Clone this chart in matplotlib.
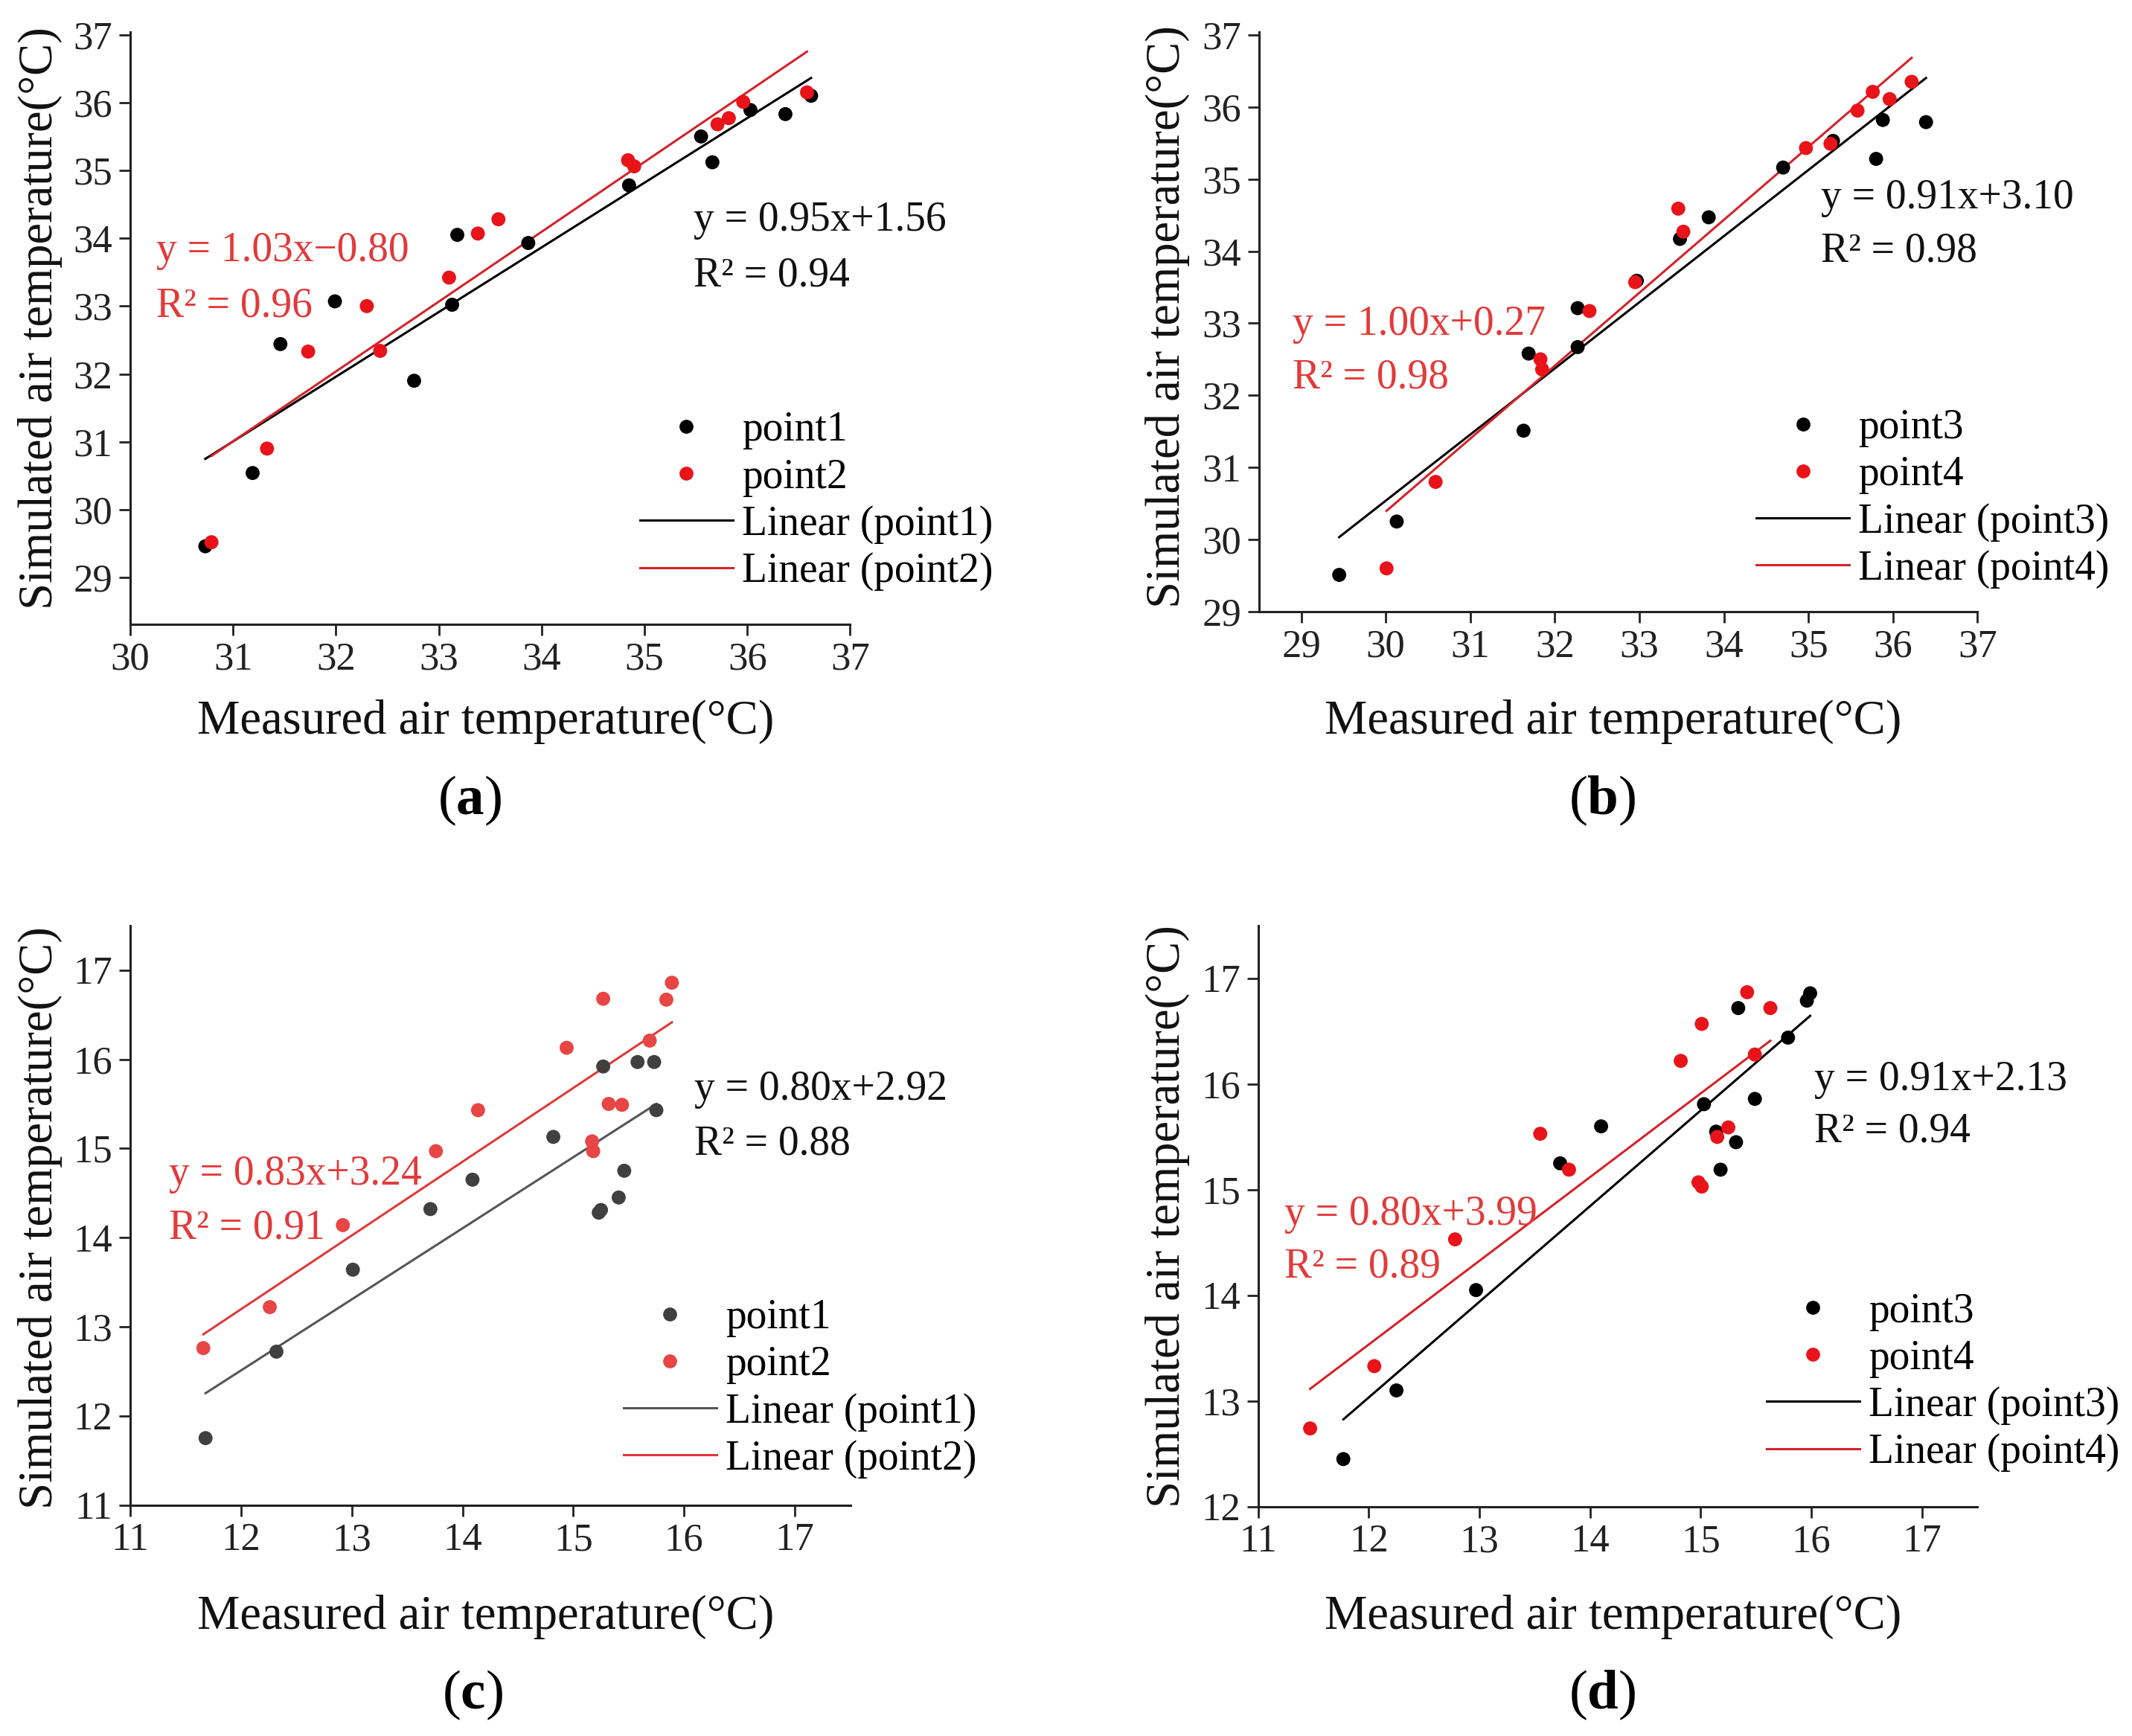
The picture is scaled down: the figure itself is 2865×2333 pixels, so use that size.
import numpy as np
import matplotlib
matplotlib.use("Agg")
import matplotlib.pyplot as plt
from matplotlib.lines import Line2D

plt.rcParams['font.family'] = ['Liberation Serif', 'DejaVu Serif']
plt.rcParams['mathtext.fontset'] = 'custom'
plt.rcParams['mathtext.rm'] = 'Liberation Serif'
plt.rcParams['mathtext.bf'] = 'Liberation Serif:bold'

# ---------------- data ----------------
# (a) summer, point1 / point2
a_p1_x = [30.73, 31.19, 31.46, 31.99, 32.76, 33.13, 33.18, 33.87, 34.85, 35.55, 35.66, 36.03, 36.37, 36.62]
a_p1_y = [29.46, 30.54, 32.44, 33.07, 31.90, 33.02, 34.05, 33.93, 34.78, 35.50, 35.12, 35.89, 35.83, 36.10]
a_p2_x = [30.79, 31.33, 31.73, 32.30, 32.43, 33.10, 33.38, 33.58, 34.84, 34.90, 35.71, 35.82, 35.96, 36.58]
a_p2_y = [29.52, 30.90, 32.33, 33.00, 32.34, 33.42, 34.07, 34.28, 35.15, 35.06, 35.68, 35.77, 36.01, 36.15]

# (b) summer, point3 / point4
b_p3_x = [29.45, 30.13, 31.63, 31.69, 32.27, 32.27, 32.97, 33.48, 33.82, 34.70, 35.29, 35.80, 35.88, 36.39]
b_p3_y = [29.51, 30.25, 31.51, 32.58, 32.67, 33.21, 33.59, 34.17, 34.47, 35.16, 35.53, 35.28, 35.82, 35.79]
b_p4_x = [30.01, 30.59, 31.83, 31.85, 32.41, 32.95, 33.46, 33.52, 34.97, 35.26, 35.58, 35.76, 35.96, 36.22]
b_p4_y = [29.60, 30.80, 32.50, 32.36, 33.17, 33.57, 34.59, 34.27, 35.43, 35.49, 35.95, 36.21, 36.11, 36.35]

# (c) winter, point1 / point2
c_p1_x = [11.68, 12.32, 13.01, 13.71, 14.09, 14.82, 15.23, 15.25, 15.41, 15.46, 15.27, 15.58, 15.73, 15.75]
c_p1_y = [11.75, 12.72, 13.64, 14.32, 14.65, 15.13, 14.28, 14.31, 14.45, 14.75, 15.92, 15.97, 15.97, 15.43]
c_p2_x = [11.66, 12.26, 12.92, 13.76, 14.14, 14.94, 15.17, 15.18, 15.27, 15.32, 15.44, 15.69, 15.84, 15.89]
c_p2_y = [12.76, 13.22, 14.14, 14.97, 15.43, 16.13, 15.08, 14.97, 16.68, 15.50, 15.49, 16.21, 16.67, 16.86]

# (d) winter, point3 / point4
d_p3_x = [11.77, 12.25, 12.97, 13.73, 14.10, 15.03, 15.14, 15.18, 15.32, 15.34, 15.49, 15.79, 15.96, 15.99]
d_p3_y = [12.45, 13.10, 14.05, 15.25, 15.60, 15.81, 15.55, 15.19, 15.45, 16.72, 15.86, 16.44, 16.79, 16.86]
d_p4_x = [11.47, 12.05, 12.78, 13.55, 13.81, 14.82, 15.01, 14.98, 15.01, 15.15, 15.25, 15.42, 15.49, 15.63]
d_p4_y = [12.74, 13.33, 14.53, 15.53, 15.19, 16.22, 16.57, 15.07, 15.03, 15.50, 15.59, 16.87, 16.28, 16.72]

# fitted equations as labelled
eq_a = ["y = 0.95x+1.56", "R² = 0.94", "y = 1.03x\u22120.80", "R² = 0.96"]
eq_b = ["y = 0.91x+3.10", "R² = 0.98", "y = 1.00x+0.27", "R² = 0.98"]
eq_c = ["y = 0.80x+2.92", "R² = 0.88", "y = 0.83x+3.24", "R² = 0.91"]
eq_d = ["y = 0.91x+2.13", "R² = 0.94", "y = 0.80x+3.99", "R² = 0.89"]

names_ab = ["point1", "point2"]
names_bd = ["point3", "point4"]

# ---------------- figure ----------------
W, H = 2865, 2333
fig = plt.figure(figsize=(W / 100, H / 100), dpi=100)


def frac_rect(l, r, t, b):
    return [l / W, 1 - b / H, (r - l) / W, (b - t) / H]


TICK_FS = 38
LAB_FS = 46.5
TXT_FS = 40


def make_panel(rect, xs, ys, names, eqs, xlim, ylim, xticks, yticks,
               col1, col2, lcol1, lcol2, tcol2, eqpos, legpos):
    ax = fig.add_axes(rect)
    ax.set_xlim(*xlim)
    ax.set_ylim(*ylim)
    ax.set_xticks(xticks)
    ax.set_yticks(yticks)
    for s in ['top', 'right']:
        ax.spines[s].set_visible(False)
    for s in ['left', 'bottom']:
        ax.spines[s].set_linewidth(2.2)
        ax.spines[s].set_color('#222222')
    ax.tick_params(direction='out', length=11, width=2.0, labelsize=TICK_FS,
                   pad=6, colors='#222222')
    (x1, y1), (x2, y2) = (xs[0], ys[0]), (xs[1], ys[1])
    # trend lines fitted to the data
    k1, b1 = np.polyfit(x1, y1, 1)
    k2, b2 = np.polyfit(x2, y2, 1)
    xx1 = np.array([min(x1), max(x1)])
    xx2 = np.array([min(x2), max(x2)])
    ax.plot(xx1, k1 * xx1 + b1, color=lcol1, lw=2.2, zorder=2)
    ax.plot(xx2, k2 * xx2 + b2, color=lcol2, lw=2.2, zorder=2)
    ax.scatter(x1, y1, s=185, color=col1, edgecolors='none', zorder=3)
    ax.scatter(x2, y2, s=185, color=col2, edgecolors='none', zorder=4)
    # equations
    (bx, by, by2), (rx, ry, ry2) = eqpos
    ax.text(bx, by, eqs[0], fontsize=TXT_FS, color='#111111', va='center', ha='left')
    ax.text(bx, by2, eqs[1], fontsize=TXT_FS, color='#111111', va='center', ha='left')
    ax.text(rx, ry, eqs[2], fontsize=TXT_FS, color=tcol2, va='center', ha='left')
    ax.text(rx, ry2, eqs[3], fontsize=TXT_FS, color=tcol2, va='center', ha='left')
    handles = [
        Line2D([], [], ls='none', marker='o', ms=13.5, color=col1, markeredgewidth=0),
        Line2D([], [], ls='none', marker='o', ms=13.5, color=col2, markeredgewidth=0),
        Line2D([], [], color=lcol1, lw=2.2),
        Line2D([], [], color=lcol2, lw=2.2),
    ]
    labels = [names[0], names[1], f"Linear ({names[0]})", f"Linear ({names[1]})"]
    ax.legend(handles, labels, loc='upper left', bbox_to_anchor=legpos,
              frameon=False, fontsize=TXT_FS, handlelength=2.25, handletextpad=0.22,
              labelspacing=0.2, borderaxespad=0, borderpad=0, numpoints=1)
    return ax


# (a)
make_panel(frac_rect(175, 1142.5, 43, 839),
           [a_p1_x, a_p2_x], [a_p1_y, a_p2_y], names_ab, eq_a,
           (30, 37), (28.31, 37.04), range(30, 38), range(29, 38),
           '#000000', '#e8141a', '#000000', '#d4232a', '#e23a3a',
           ((35.48, 34.27, 33.45), (30.25, 33.82, 33.0)), (0.708, 0.36))
# (b)
make_panel(frac_rect(1691.7, 2657.5, 43, 822),
           [b_p3_x, b_p4_x], [b_p3_y, b_p4_y], names_bd, eq_b,
           (28.5, 37), (29, 37.04), range(29, 38), range(29, 38),
           '#000000', '#e8141a', '#000000', '#d4232a', '#e23a3a',
           ((35.15, 34.74, 34.0), (28.90, 32.98, 32.25)), (0.692, 0.35))
# (c)
make_panel(frac_rect(175, 1142.5, 1244, 2022.5),
           [c_p1_x, c_p2_x], [c_p1_y, c_p2_y], names_ab, eq_c,
           (11, 17.5), (11, 17.5), range(11, 18), range(11, 18),
           '#404040', '#e84545', '#555555', '#e03a3a', '#e23a3a',
           ((16.09, 15.66, 15.05), (11.35, 14.71, 14.11)), (0.685, 0.356))
# (d)
make_panel(frac_rect(1690.7, 2657, 1244, 2024.7),
           [d_p3_x, d_p4_x], [d_p3_y, d_p4_y], names_bd, eq_d,
           (11, 17.5), (12, 17.5), range(11, 18), range(12, 18),
           '#000000', '#e8141a', '#000000', '#d4232a', '#e23a3a',
           ((16.03, 16.04, 15.55), (11.24, 14.77, 14.27)), (0.707, 0.369))

# axis labels and panel tags
xl = "Measured air temperature(°C)"
yl = "Simulated air temperature(°C)"
for (x, y) in [(653 / W, 1 - 970 / H), (2168 / W, 1 - 970 / H),
               (653 / W, 1 - 2173 / H), (2168 / W, 1 - 2173 / H)]:
    fig.text(x, y, xl, fontsize=LAB_FS, ha='center', va='center', color='#111111')
for (x, y) in [(54 / W, 1 - 428 / H), (1569 / W, 1 - 426 / H),
               (54 / W, 1 - 1637 / H), (1569 / W, 1 - 1635 / H)]:
    fig.text(x, y, yl, fontsize=LAB_FS, ha='center', va='center', rotation=90,
             color='#111111')
for (x, y, t) in [(631 / W, 1 - 1076 / H, 'a'), (2153 / W, 1 - 1076 / H, 'b'),
                  (635 / W, 1 - 2278 / H, 'c'), (2153 / W, 1 - 2278 / H, 'd')]:
    fig.text(x, y, '($\\mathbf{' + t + '}$)', fontsize=54, ha='center', va='center',
             color='#000000')

fig.savefig("out.png", dpi=100, facecolor='white')
